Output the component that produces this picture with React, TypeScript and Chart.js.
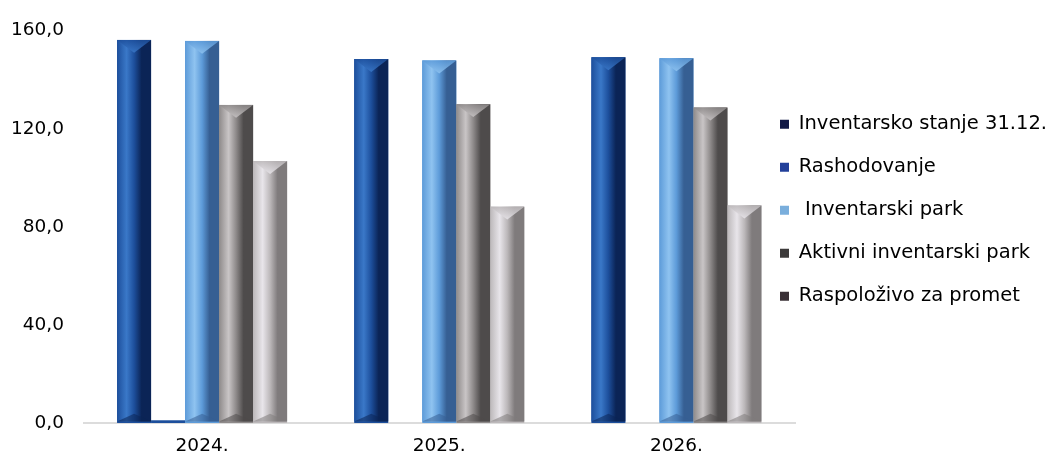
import React, { useEffect, useRef } from 'react';
import { Chart, registerables } from 'chart.js';

Chart.register(...registerables);

const years = ['2024.', '2025.', '2026.'];
const seriesNames = [
  'Inventarsko stanje 31.12.',
  'Rashodovanje',
  ' Inventarski park',
  'Aktivni inventarski park',
  'Raspoloživo za promet',
];
const inventarskoStanje = [156.2, 148.4, 149.1];
const rashodovanje = [1.0, 0, 0];
const inventarskiPark = [155.8, 147.8, 148.7];
const aktivniPark = [129.7, 130.0, 128.6];
const raspolozivo = [106.8, 88.2, 88.7];
const yTicks = [0, 40, 80, 120, 160];

// [base, highlight, shadow]
const barShades: string[][] = [
  ['#1d4f9c', '#3a78c8', '#0b2456'],
  ['#1d4f9c', '#3a78c8', '#0b2456'],
  ['#5d9bd9', '#8fc3f0', '#365f93'],
  ['#8e8a8a', '#c9c5c6', '#4e4b4b'],
  ['#bcb8ba', '#e8e5ea', '#7f7b7c'],
];
const legendColors = ['#101845', '#22409a', '#7aaedc', '#3c3a3a', '#3a3036'];

const FONT = "'DejaVu Sans', sans-serif";

const shadePlugin = {
  id: 'shade',
  afterDatasetsDraw(chart: any) {
    const ctx: CanvasRenderingContext2D = chart.ctx;
    chart.data.datasets.forEach((_ds: any, di: number) => {
      const meta = chart.getDatasetMeta(di);
      const [base, hi, lo] = barShades[di];
      meta.data.forEach((el: any) => {
        const { x, y, base: b, width } = el.getProps(['x', 'y', 'base', 'width'], true);
        const left = x - width / 2;
        const right = x + width / 2;
        const top = Math.min(y, b);
        const bottom = Math.max(y, b) - 1.5;
        const h = bottom - top;
        if (h <= 0.2) return;
        ctx.save();
        if (h < 6) {
          ctx.fillStyle = base;
          ctx.fillRect(left, top, width, h);
          ctx.restore();
          return;
        }
        const g = ctx.createLinearGradient(left, 0, right, 0);
        g.addColorStop(0, base);
        g.addColorStop(0.28, hi);
        g.addColorStop(0.5, base);
        g.addColorStop(0.72, lo);
        g.addColorStop(1, lo);
        ctx.fillStyle = g;
        ctx.fillRect(left, top, width, h);
        const d = Math.min(width * 0.38, h / 2);
        // top bevel
        ctx.beginPath();
        ctx.moveTo(left, top);
        ctx.lineTo(right, top);
        ctx.lineTo(x, top + d);
        ctx.closePath();
        const gt = ctx.createLinearGradient(0, top, 0, top + d);
        gt.addColorStop(0, base);
        gt.addColorStop(1, hi);
        ctx.fillStyle = gt;
        ctx.globalAlpha = 0.85;
        ctx.fill();
        // bottom bevel
        ctx.beginPath();
        ctx.moveTo(left, bottom);
        ctx.lineTo(right, bottom);
        ctx.lineTo(x, bottom - d * 0.6);
        ctx.closePath();
        ctx.fillStyle = lo;
        ctx.globalAlpha = 0.55;
        ctx.fill();
        ctx.restore();
      });
    });
  },
};

const legendShift = {
  id: 'legendShift',
  afterLayout(chart: any) {
    const lg = chart.legend;
    if (!lg) return;
    const h = lg.height;
    lg.left = chart.chartArea.right - 18;
    lg.right = chart.width;
    lg.width = lg.right - lg.left;
    lg.top = 111.5;
    lg.bottom = lg.top + h;
  },
};

export default function App() {
  const canvasRef = useRef<HTMLCanvasElement | null>(null);

  useEffect(() => {
    document.body.style.margin = '0';
    const canvas = canvasRef.current;
    if (!canvas) return;
    const seriesValues = [inventarskoStanje, rashodovanje, inventarskiPark, aktivniPark, raspolozivo];
    const chart = new Chart(canvas, {
      type: 'bar',
      data: {
        labels: years,
        datasets: seriesNames.map((name, i) => ({
          label: name,
          data: seriesValues[i],
          backgroundColor: barShades[i][0],
          borderWidth: 0,
          categoryPercentage: 0.717,
          barPercentage: 1.0,
        })),
      },
      options: {
        animation: false,
        responsive: true,
        maintainAspectRatio: false,
        layout: { padding: { top: 24.5, right: 0, bottom: 0, left: 0 } },
        plugins: {
          tooltip: { enabled: false },
          legend: {
            position: 'right',
            align: 'start',
            maxWidth: 254,
            labels: {
              boxWidth: 9,
              boxHeight: 9,
              padding: 3,
              color: '#000',
              font: { family: FONT, size: 19.5, lineHeight: '40px' },
              generateLabels: () =>
                seriesNames.map((name, i) => ({
                  text: [name] as any,
                  fillStyle: legendColors[i],
                  strokeStyle: legendColors[i],
                  lineWidth: 0,
                  hidden: false,
                  datasetIndex: i,
                  fontColor: '#000',
                })),
            },
          },
        },
        scales: {
          x: {
            grid: { display: false, drawTicks: false },
            border: { display: true, color: '#dcdcdc', width: 2 },
            ticks: { color: '#000', font: { family: FONT, size: 18.5 }, padding: 12 },
            afterFit: (s: any) => {
              s.height = 34;
            },
          },
          y: {
            min: 0,
            max: 160,
            grid: { display: false, drawTicks: false },
            border: { display: false },
            afterBuildTicks: (s: any) => {
              s.ticks = yTicks.map((v) => ({ value: v }));
            },
            ticks: {
              color: '#000',
              font: { family: FONT, size: 18.5 },
              padding: 19.5,
              callback: (v: any) => Number(v).toFixed(1).replace('.', ','),
            },
            afterFit: (s: any) => {
              s.width = 83.5;
            },
          },
        },
      },
      plugins: [shadePlugin, legendShift],
    });
    return () => chart.destroy();
  }, []);

  return (
    <div style={{ position: 'relative', width: 1049, height: 457 }}>
      <canvas ref={canvasRef} />
    </div>
  );
}
